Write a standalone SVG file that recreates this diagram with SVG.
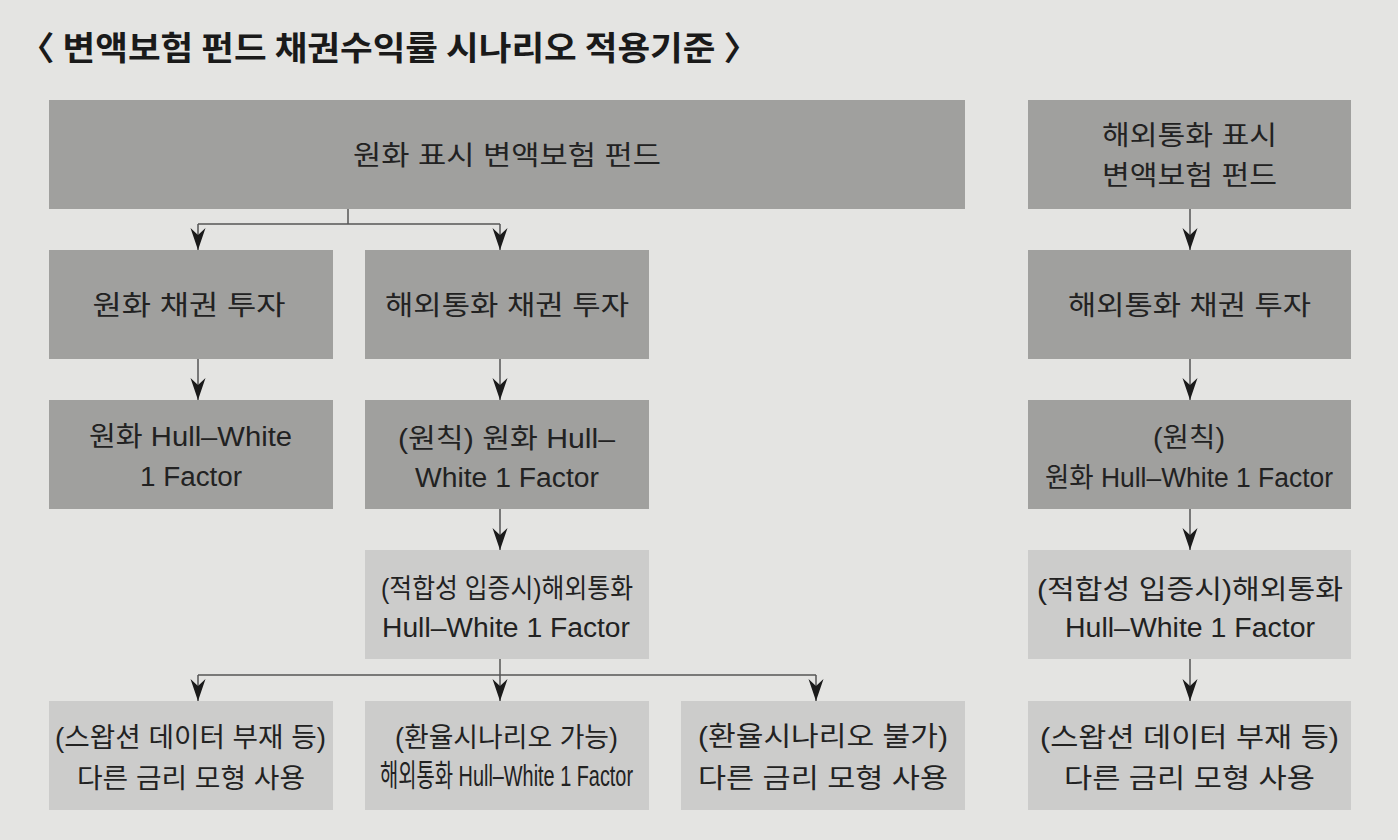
<svg xmlns="http://www.w3.org/2000/svg" width="1398" height="840" viewBox="0 0 1398 840">
<style>
.bg{fill:#e4e4e2}
.dk{fill:#a0a09e}
.lt{fill:#cccccb}
text{font-family:"Liberation Sans","Noto Sans CJK KR",sans-serif;font-size:27px;fill:#222;text-anchor:middle}
.title{font-family:"Noto Sans CJK KR",sans-serif;font-weight:bold;font-size:33px;fill:#1a1a1a;text-anchor:start}
.cn{fill:none;stroke:#555;stroke-width:1.5}
</style>
<defs>
<marker id="ah" viewBox="-23 -8 24 16" markerWidth="24" markerHeight="16" refX="0" refY="0" orient="auto" markerUnits="userSpaceOnUse">
<path d="M0,0 L-22,-7.5 L-15,0 L-22,7.5 Z" fill="#1a1a1a"/>
</marker>
</defs>
<rect class="bg" x="0" y="0" width="1398" height="840"/>
<text class="title" x="19" y="60" textLength="740" lengthAdjust="spacingAndGlyphs">〈 변액보험 펀드 채권수익률 시나리오 적용기준 〉</text>

<g id="connectors">
<path class="cn" d="M348,209 V224 M198,224 H500"/>
<path class="cn" d="M198,224 V250" marker-end="url(#ah)"/>
<path class="cn" d="M500,224 V250" marker-end="url(#ah)"/>
<path class="cn" d="M198,359 V400" marker-end="url(#ah)"/>
<path class="cn" d="M500,359 V400" marker-end="url(#ah)"/>
<path class="cn" d="M500,509 V550" marker-end="url(#ah)"/>
<path class="cn" d="M500,659 V675 M198,675 H816"/>
<path class="cn" d="M198,675 V701" marker-end="url(#ah)"/>
<path class="cn" d="M500,675 V701" marker-end="url(#ah)"/>
<path class="cn" d="M816,675 V701" marker-end="url(#ah)"/>
<path class="cn" d="M1190,209 V250" marker-end="url(#ah)"/>
<path class="cn" d="M1190,359 V400" marker-end="url(#ah)"/>
<path class="cn" d="M1190,509 V550" marker-end="url(#ah)"/>
<path class="cn" d="M1190,659 V701" marker-end="url(#ah)"/>
</g>

<g id="n-top">
<rect class="dk" x="49" y="100" width="916" height="109"/>
<text x="507" y="165" textLength="308" lengthAdjust="spacingAndGlyphs">원화 표시 변액보험 펀드</text>
</g>
<g id="n-top-r">
<rect class="dk" x="1028" y="100" width="323" height="109"/>
<text x="1189.5" y="145" textLength="175" lengthAdjust="spacingAndGlyphs">해외통화 표시</text>
<text x="1189.5" y="185" textLength="175" lengthAdjust="spacingAndGlyphs">변액보험 펀드</text>
</g>

<g id="n-r2-1">
<rect class="dk" x="49" y="250" width="284" height="109"/>
<text x="189" y="315" textLength="193" lengthAdjust="spacingAndGlyphs">원화 채권 투자</text>
</g>
<g id="n-r2-2">
<rect class="dk" x="365" y="250" width="284" height="109"/>
<text x="507" y="315" textLength="244" lengthAdjust="spacingAndGlyphs">해외통화 채권 투자</text>
</g>
<g id="n-r2-r">
<rect class="dk" x="1028" y="250" width="323" height="109"/>
<text x="1189.5" y="315" textLength="243" lengthAdjust="spacingAndGlyphs">해외통화 채권 투자</text>
</g>

<g id="n-r3-1">
<rect class="dk" x="49" y="400" width="284" height="109"/>
<text x="190.5" y="446" textLength="203" lengthAdjust="spacingAndGlyphs">원화 Hull–White</text>
<text x="191" y="486" textLength="102" lengthAdjust="spacingAndGlyphs">1 Factor</text>
</g>
<g id="n-r3-2">
<rect class="dk" x="365" y="400" width="284" height="109"/>
<text x="506.5" y="448" textLength="217" lengthAdjust="spacingAndGlyphs">(원칙) 원화 Hull–</text>
<text x="507" y="487" textLength="184" lengthAdjust="spacingAndGlyphs">White 1 Factor</text>
</g>
<g id="n-r3-r">
<rect class="dk" x="1028" y="400" width="323" height="109"/>
<text x="1189" y="447" textLength="72" lengthAdjust="spacingAndGlyphs">(원칙)</text>
<text x="1189" y="487" textLength="288" lengthAdjust="spacingAndGlyphs">원화 Hull–White 1 Factor</text>
</g>

<g id="n-r4-2">
<rect class="lt" x="365" y="550" width="284" height="109"/>
<text x="507" y="598" textLength="252" lengthAdjust="spacingAndGlyphs">(적합성 입증시)해외통화</text>
<text x="506" y="637" textLength="248" lengthAdjust="spacingAndGlyphs">Hull–White 1 Factor</text>
</g>
<g id="n-r4-r">
<rect class="lt" x="1028" y="550" width="323" height="109"/>
<text x="1190" y="599" font-size="29" textLength="306" lengthAdjust="spacingAndGlyphs">(적합성 입증시)해외통화</text>
<text x="1190" y="637" textLength="250" lengthAdjust="spacingAndGlyphs">Hull–White 1 Factor</text>
</g>

<g id="n-r5-1">
<rect class="lt" x="49" y="701" width="284" height="109"/>
<text x="190.5" y="747" textLength="271" lengthAdjust="spacingAndGlyphs">(스왑션 데이터 부재 등)</text>
<text x="191" y="788" textLength="228" lengthAdjust="spacingAndGlyphs">다른 금리 모형 사용</text>
</g>
<g id="n-r5-2">
<rect class="lt" x="365" y="701" width="284" height="109"/>
<text x="506.5" y="747" textLength="223" lengthAdjust="spacingAndGlyphs">(환율시나리오 가능)</text>
<text transform="translate(506.5,786) scale(1,1.12)" x="0" y="0" font-size="21.5" textLength="253" lengthAdjust="spacingAndGlyphs">해외통화 Hull–White 1 Factor</text>
</g>
<g id="n-r5-3">
<rect class="lt" x="681" y="701" width="284" height="109"/>
<text x="823" y="746" textLength="250" lengthAdjust="spacingAndGlyphs">(환율시나리오 불가)</text>
<text x="823" y="788" textLength="250" lengthAdjust="spacingAndGlyphs">다른 금리 모형 사용</text>
</g>
<g id="n-r5-r">
<rect class="lt" x="1028" y="701" width="323" height="109"/>
<text x="1189.5" y="747" textLength="299" lengthAdjust="spacingAndGlyphs">(스왑션 데이터 부재 등)</text>
<text x="1189.5" y="788" textLength="251" lengthAdjust="spacingAndGlyphs">다른 금리 모형 사용</text>
</g>
</svg>
